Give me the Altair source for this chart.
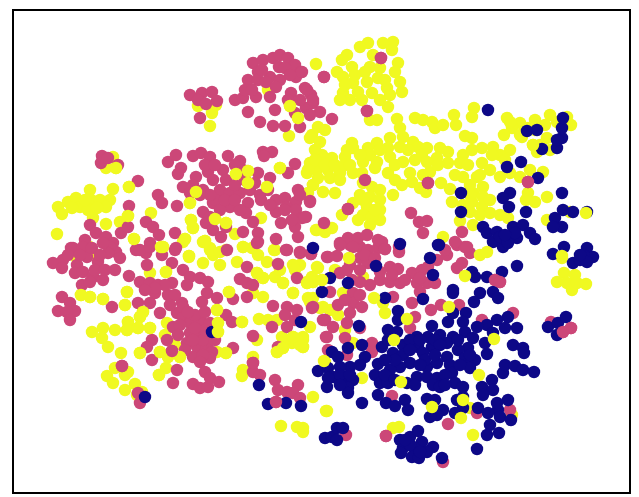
import altair as alt
import pandas as pd

yellow = [(316,64),(393,42),(383,43),(368,43),(360,47),(347,55),(342,60),(352,67),(337,72),(343,77),(373,55),(370,67),(380,68),(398,63),(395,72),(400,82),(402,92),(353,83),(343,93),(350,100),(367,82),(378,78),(387,88),(372,93),(380,100),(358,92),(388,107),(370,120),(377,120),
(397,119),(415,118),(423,120),(432,122),(435,128),(443,125),(454,115),(456,125),(474,108),(472,117),(465,136),(472,138),(400,128),(403,137),(390,138),(377,143),(352,143),(353,148),(368,148),(388,148),(400,147),(413,142),(418,147),(427,148),(422,155),(440,148),(448,152),(437,158),(427,162),(463,155),(472,150),(482,148),(493,147),(510,150),(500,155),(460,163),(448,163),(345,157),(322,155),(332,158),(310,163),(320,163),(307,173),(317,170),(328,170),(340,173),(353,173),(363,162),(377,162),(390,157),(403,162),(410,173),(388,173),(375,168),(313,185),(323,192),(335,193),(402,185),(420,188),(426,192),(423,175),(441,183),(450,189),(455,175),(463,177),(363,183),(372,187),(380,190),(393,195),(370,197),(380,200),(353,203),(367,207),(380,210),(363,215),(342,215),(358,220),(380,220),(372,217),(317,230),(325,232),(332,228),
(482,163),(490,170),(477,177),(483,187),(473,193),(483,197),(472,202),(482,207),(452,202),(463,205),(470,212),(490,213),(500,215),(508,218),(460,221),(473,225),(500,177),(510,173),(520,177),(530,170),(543,172),(528,193),(535,202),(526,200),(547,197),(507,118),(520,123),(535,120),(550,115),(567,117),(571,125),(512,128),(504,135),(522,137),(533,145),(547,138),(537,152),(550,150),(557,122),(570,212),(547,220),(443,237),
(564,273),(557,282),(567,283),(572,290),(586,284),(575,275),(577,283),(562,258),(385,313),(383,303),(343,293),(363,277),(362,378),(463,400),(470,408),(512,415),(313,397),(327,411),(473,435),(399,427),(393,428),(303,428),(345,330),(310,327),(303,340),(303,347),(353,343),
(307,282),(317,267),(322,280),(312,277),(308,298),(313,298),(320,308),(330,310),(338,315),(335,270),(312,135),(325,130),(315,150),
(92,332),(103,328),(102,338),(108,347),(115,330),(127,330),(128,322),(140,317),(143,312),(150,328),(138,328),(121,353),(140,353),(160,352),(168,357),(180,357),(175,345),(165,335),(167,323),(115,368),(107,376),(113,383),(128,372),(125,375),(135,384),(125,390),(142,392),(137,395),(159,375),(166,368),(81,295),(90,297),(103,299),(125,305),(127,292),(217,310),(218,323),(218,332),(217,352),(226,353),(242,322),(259,319),(268,320),(277,320),(257,340),(253,357),(243,370),(242,376),(229,292),(166,272),(189,256),(163,247),(150,273),(258,255),(267,262),(257,273),(263,278),(253,293),(263,297),(275,277),(283,283),(293,293),(300,265),(293,265),(307,283),(318,268),(313,282),(310,302),(323,307),(282,337),(293,337),(303,337),(283,348),(277,352),(292,343),(303,347),(275,250),(213,255),(203,263),(220,265),(237,262),(243,247),(252,248),(210,248),(281,426),(297,427),(303,432),(325,362),(326,411),(77,255),(98,255),(183,242),(203,242),
(57,234),(58,207),(62,214),(68,202),(76,198),(80,207),(90,190),(91,200),(100,200),(113,189),(110,200),(106,207),(88,210),(93,218),(106,224),(129,187),(128,216),(120,222),(134,239),(151,213),(161,247),(185,239),(191,220),(193,228),(190,203),(196,192),(205,241),(226,223),(215,219),(236,174),(248,171),(248,183),(267,187),(280,168),(261,218),(235,234),(274,250),(316,230),(290,106),(298,118),(289,136),(212,113),(210,126),(198,106),(216,105),(116,168),(113,157),(106,168),(268,90),(310,138),(318,127),(320,142),(308,170),(311,163),(313,185),(308,193),(210,250),(220,252),(243,247),(226,250),(189,257),(98,257),(88,246),(76,257)]

yellow_more = [(315,160),(325,165),(335,165),(345,165),(318,178),(330,178),(340,180),(350,165),(362,173),(370,155),(380,150),(395,165),(408,150),(415,160),(430,172),(438,165),(360,195),(375,210),(363,200),(370,225),(480,175),(470,185),(470,195),(490,200),(480,215),(492,155),(505,160),(340,100),(362,100),(365,72),(355,75),(390,95),(385,80),(520,135),(535,130),(545,125),(540,145),(510,122),(528,128),(295,270),(280,270),(285,340),(300,345),(85,200),(97,208),(72,208),(347,150),(360,155),(395,180),(412,182),(468,165),(345,85),(392,50)]

pink = [(253,63),(263,60),(273,58),(280,55),(288,58),(295,65),(301,72),(296,77),(279,67),(258,72),(248,80),(258,80),(270,77),(280,80),(266,82),(276,87),(291,93),(305,88),(311,95),(313,103),(306,108),(295,113),(300,127),(285,126),(273,126),(260,122),(248,112),(235,100),(243,98),(256,97),(275,110),(270,97),
(190,95),(202,93),(212,92),(217,101),(198,100),(206,104),(200,118),(102,156),(101,163),(108,158),(118,165),
(168,162),(176,155),(181,168),(178,174),(193,156),(201,153),(210,157),(228,156),(240,161),(263,152),(272,152),(264,156),(295,164),(288,173),(270,178),(258,173),(243,170),(223,170),(208,172),(196,177),(183,187),(193,185),(190,193),(213,180),(226,180),(220,190),(230,193),(240,193),(250,190),(260,195),(261,200),(276,200),(285,198),(296,202),(298,190),(310,202),(276,212),(286,207),(296,210),(306,217),(281,223),(295,227),(298,237),(276,239),(286,250),(300,253),(311,254),
(248,203),(246,213),(253,222),(258,233),(258,242),(243,232),(213,203),(203,212),(210,217),(206,223),(213,230),(221,237),(226,227),(216,200),(230,207),(240,210),(138,181),(158,195),(162,203),(177,206),(129,206),(146,222),(153,227),(121,233),(128,227),(159,235),(175,233),(176,248),(150,243),(136,250),(146,253),(90,225),(85,240),(96,233),(106,237),(113,243),(116,252),(71,248),(53,263),(63,260),(62,268),(73,248),(83,247),(87,257),(77,265),(75,273),(83,272),(93,277),(103,280),(82,285),(90,282),(98,262),(110,247),(120,258),(115,270),(108,253),(103,243),(129,276),(62,297),(70,303),(58,311),(75,311),(67,312),(70,320),(112,307),
(140,282),(150,283),(158,285),(155,293),(168,295),(138,303),(150,303),(160,313),(172,283),(172,263),(140,250),(150,247),(147,265),(162,255),(175,250),
(183,270),(190,277),(200,278),(208,282),(187,285),(207,293),(202,302),(217,298),(182,303),(177,313),(183,317),(173,327),(190,323),(200,320),(210,323),(190,333),(200,333),(210,337),(187,343),(197,347),(207,347),(212,352),(193,357),(210,358),(183,307),(203,340),(193,340),(203,355),
(233,348),(226,315),(232,322),(152,340),(147,347),(167,340),(172,351),(152,360),(177,370),(173,383),(122,366),(193,384),(200,388),(208,387),(205,372),(210,378),(219,382),(140,403),(138,393),
(247,267),(240,279),(247,283),(247,297),(233,299),(253,285),(273,306),(287,307),(297,310),(285,315),(287,327),(272,327),(295,320),(253,336),(278,264),(300,252),(287,250),(312,308),(278,347),(325,320),(327,337),(253,363),(253,372),(260,375),(275,380),(278,390),(287,392),(298,385),(293,393),(300,398),(276,402),(327,257),(297,278),(227,250),(257,243),
(311,254),(328,257),(337,256),(340,243),(350,245),(360,247),(368,250),(378,248),(385,249),(382,242),(399,252),(360,258),(368,263),(350,265),(340,273),(347,270),(390,267),(398,269),(380,280),(370,285),(360,282),(390,282),(400,283),(393,297),(412,273),(422,270),(428,267),(417,283),(427,283),(435,283),(420,292),(437,260),(447,255),(457,245),(465,247),(470,253),(462,263),(457,268),(353,293),(353,303),(362,307),(350,313),(347,323),(412,303),(431,310),(415,317),(441,305),(459,305),(330,292),(325,320),(333,327),(326,337),(345,338),(360,328),(372,343),(372,352),(347,355),(328,350),(392,396),(448,424),(386,436),(346,435),(495,280),(500,282),(513,313),(482,320),(551,322),(571,328),(563,332),(510,410),(477,413),(443,462),(313,307),(323,320),(338,305),(410,328),
(381,58),(324,77),(367,111),(528,182),(302,72),(307,90),(313,100),(320,112),(310,115),(332,119),(310,201),(348,209),(411,213),(419,222),(427,221),(423,233),(428,183),(324,223),(348,238),(358,238),(340,245),(353,247),(378,240),(367,235),(385,249),(462,232),(455,242),(467,247),(399,247),(365,180),(302,218),(305,217)]

pink_more = [(180,325),(195,315),(205,330),(195,328),(185,350),(200,362),(178,335),(215,340),(188,312),(205,312),(68,255),(80,255),(92,248),(100,255),(95,270),(105,270),(205,165),(235,165),(215,165),(203,190),(235,185),(245,180),(255,183),(210,195),(365,255),(375,258),(392,275),(380,272),(405,280),(420,278),(360,270),(352,280),(360,295),(345,300),(445,250),(285,68),(262,70),(290,75),(245,90),(300,100),(288,100),(252,90),(220,210),(225,200),(200,195),(235,200),(165,285),(175,295),(170,305),(285,210),(270,205),(292,220),(300,195),(268,190),(155,288),(145,290)]

navy = [(313,248),(400,244),(376,266),(438,245),(348,283),(330,278),(322,292),(385,298),(423,299),(430,258),(433,275),(517,266),(472,272),(475,277),(487,277),(502,272),(493,292),(498,298),(480,293),(474,302),(453,290),(453,293),(398,311),(398,320),(359,326),(348,348),
(448,322),(453,313),(466,313),(463,322),(508,317),(497,320),(487,325),(505,328),(517,328),(477,327),(432,326),(465,332),(473,338),(485,343),(493,333),(513,345),(523,348),(524,353),(487,354),
(388,330),(397,332),(382,347),(388,340),(403,345),(393,353),(403,355),(417,337),(428,337),(440,335),(453,337),(418,347),(432,347),(447,343),(468,348),(458,350),(423,353),(447,357),(475,360),(465,358),(470,368),(378,364),(410,363),(400,367),(390,370),(427,367),(437,363),(450,365),(417,377),(427,377),(437,378),(442,383),(433,385),(452,373),(455,383),(463,387),(375,375),(380,383),(388,383),(407,383),(378,395),(386,403),(395,406),(405,400),(408,410),(362,403),(427,399),(440,387),(435,400),(443,410),(437,415),(430,417),(457,400),(463,397),(463,408),(455,413),(478,408),(482,387),(492,380),(493,390),(483,395),(503,373),(505,365),(515,366),(523,370),(534,372),(498,410),(508,400),(488,413),(497,403),(500,417),(511,420),(490,425),(487,435),(499,433),(477,449),
(332,352),(338,357),(362,345),(365,357),(360,365),(350,367),(340,367),(328,368),(318,371),(333,377),(345,377),(353,380),(348,388),(348,393),(327,387),
(325,438),(332,437),(337,428),(343,428),(337,440),(400,440),(410,437),(418,431),(422,442),(403,448),(413,447),(433,447),(427,452),(401,453),(412,457),(419,458),(442,458),
(564,247),(573,263),(580,260),(587,248),(593,257),(583,255),(587,262),(548,327),(558,323),(566,317),(557,335),(553,254),
(488,110),(507,167),(521,162),(538,178),(542,149),(527,131),(537,130),(557,148),(562,138),(557,140),(562,128),(563,118),(461,193),(510,193),(503,198),(509,207),(526,212),(562,193),(563,210),(555,218),(562,227),(553,227),(587,212),(573,212),(483,227),(487,233),(497,232),(493,242),(503,247),(513,227),(523,225),(530,233),(535,239),(510,238),(517,238),(500,237),(508,243),(461,212),(439,245),
(145,397),(259,385),(268,404),(286,403),(301,406),(301,322),(212,332)]

navy_more = [(410,340),(420,340),(435,340),(410,350),(440,345),(425,360),(435,355),(445,375),(445,385),(415,385),(420,365),(458,340),(470,355),(460,365),(395,360),(385,360),(385,375),(395,380),(340,375),(350,375),(328,378),(340,385),(410,445),(405,440),(420,452),(515,233),(505,235),(580,255)]

yellow_top = [(562,256),(494,339),(479,375),(401,382),(394,340),(324,361),(463,400),(461,418),(432,407),(586,213),(449,307),(465,276),(407,319),(349,258),(374,298),(480,255),(487,252),(218,332),(533,145),
(248,171),(248,183),(236,174),(280,168),(267,187),(116,168),(290,106),(298,118),(161,247),(134,239),(185,239),(205,241),(226,223),(215,219),(190,203),(196,192),(191,220),(193,228),(129,187),(128,216),(168,357),(180,357),(160,352),(140,353),(166,272),(189,256),(163,247),(229,292),(217,310),(218,323),(226,353),(159,375),(313,282),(322,280),(307,283),(293,293),(257,273),(263,278),(283,283),(283,348),(293,337),(277,352),(242,322),(81,295),(90,297),(103,299),(127,292),(125,305),(143,312),(140,317),(128,322),(127,330),(138,328),(150,328)]

pink_top = [(381,58),(324,77),(367,111),(528,182),(348,209),(428,183),(386,436),(122,366),(172,351),(253,363),(495,280),(500,282),(563,332),(571,328),(276,402)]

groups = [("yellow", yellow + yellow_more), ("pink", pink + pink_more), ("navy", navy + navy_more), ("yellow", yellow_top), ("pink", pink_top)]
rows = [{"x": x, "y": y, "c": name} for name, pts in groups for x, y in pts]
df = pd.DataFrame(rows)

chart = alt.Chart(df).mark_circle(size=155, opacity=1).encode(
    x=alt.X("x:Q", scale=alt.Scale(domain=[13, 630]), axis=None),
    y=alt.Y("y:Q", scale=alt.Scale(domain=[493, 10]), axis=None),
    color=alt.Color("c:N", scale=alt.Scale(domain=["navy", "pink", "yellow"], range=["#0d0887", "#cc4778", "#f0f921"]), legend=None),
).properties(width=617, height=483, padding={"left": 5, "top": 2, "right": 1, "bottom": 1}).configure_view(stroke="black", strokeWidth=2)

chart.save("out.html", embed_options={"renderer": "svg", "actions": False})
